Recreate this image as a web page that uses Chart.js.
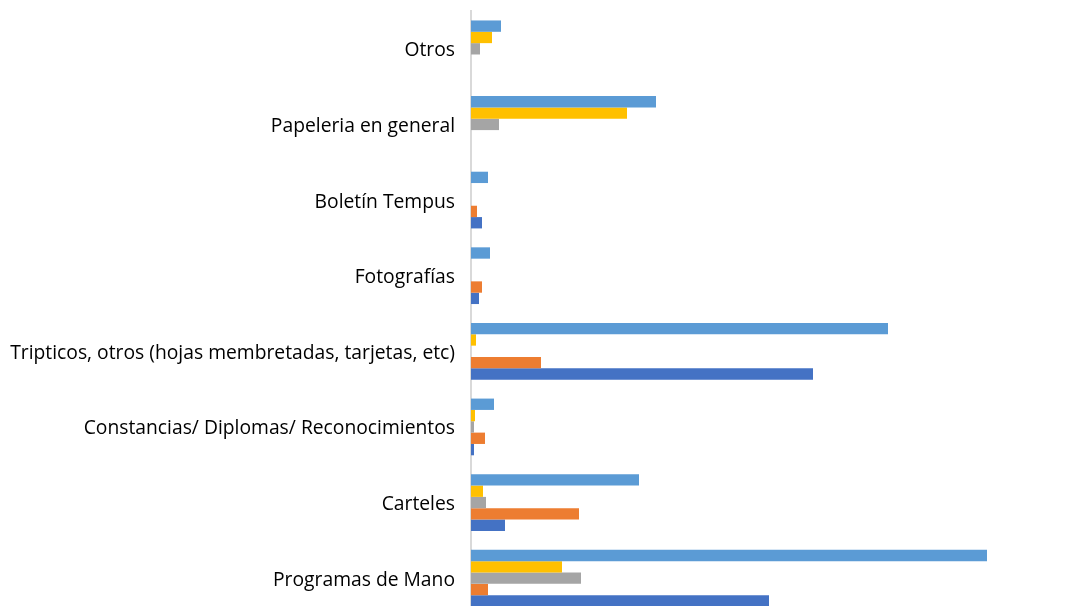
<!DOCTYPE html>
<html>
<head>
<meta charset="utf-8">
<script src="https://cdn.jsdelivr.net/npm/chart.js@4.4.1/dist/chart.umd.min.js"></script>
<style>
    html, body { margin: 0; padding: 0; background: #fff; overflow: hidden; }
    #wrap { position: absolute; left: 0; top: 0; width: 1081px; height: 616px; }
</style>
</head>
<body>
<div id="wrap"><canvas id="material-chart"></canvas></div>
<script>
// categories, top to bottom as they appear
let categories = [
    'Otros',
    'Papeleria en general',
    'Boletín Tempus',
    'Fotografías',
    'Tripticos, otros (hojas membretadas, tarjetas, etc)',
    'Constancias/ Diplomas/ Reconocimientos',
    'Carteles',
    'Programas de Mano'
];

// series values, same order as categories
let serieLightBlue = [30, 185, 17, 19, 417, 23, 168, 516];
let serieYellow    = [21, 156, 0, 0, 5, 4, 12, 91];
let serieGray      = [9, 28, 0, 0, 0, 3, 15, 110];
let serieOrange    = [0, 0, 6, 11, 70, 14, 108, 17];
let serieDarkBlue  = [0, 0, 11, 8, 342, 3, 34, 298];

let axisMax = 600;

let colors = {
    lightBlue: '#5B9BD5',
    yellow: '#FFC000',
    gray: '#A5A5A5',
    orange: '#ED7D31',
    darkBlue: '#4472C4'
};

function makeDataset(values, color) {
    return {
        data: values,
        backgroundColor: color,
        borderWidth: 0,
        categoryPercentage: 0.75,
        barPercentage: 1.0
    };
}

let ctx = document.getElementById('material-chart').getContext('2d');
new Chart(ctx, {
    type: 'bar',
    data: {
        labels: categories,
        datasets: [
            makeDataset(serieLightBlue, colors.lightBlue),
            makeDataset(serieYellow, colors.yellow),
            makeDataset(serieGray, colors.gray),
            makeDataset(serieOrange, colors.orange),
            makeDataset(serieDarkBlue, colors.darkBlue)
        ]
    },
    options: {
        indexAxis: 'y',
        responsive: true,
        maintainAspectRatio: false,
        animation: false,
        layout: { padding: { top: 11, right: 10, bottom: 0, left: 0 } },
        plugins: {
            legend: { display: false },
            tooltip: { enabled: false }
        },
        scales: {
            x: {
                display: false,
                min: 0,
                max: axisMax
            },
            y: {
                grid: { display: false, drawTicks: false },
                border: { display: true, color: '#D9D9D9', width: 2 },
                ticks: {
                    color: '#000',
                    padding: 16,
                    labelOffset: 2,
                    font: { family: 'Open Sans', size: 19.3 }
                },
                afterFit: function (scale) {
                    scale.width = 471;
                    scale.paddingTop = 0;
                    scale.paddingBottom = 0;
                }
            }
        }
    }
});
</script>
</body>
</html>
